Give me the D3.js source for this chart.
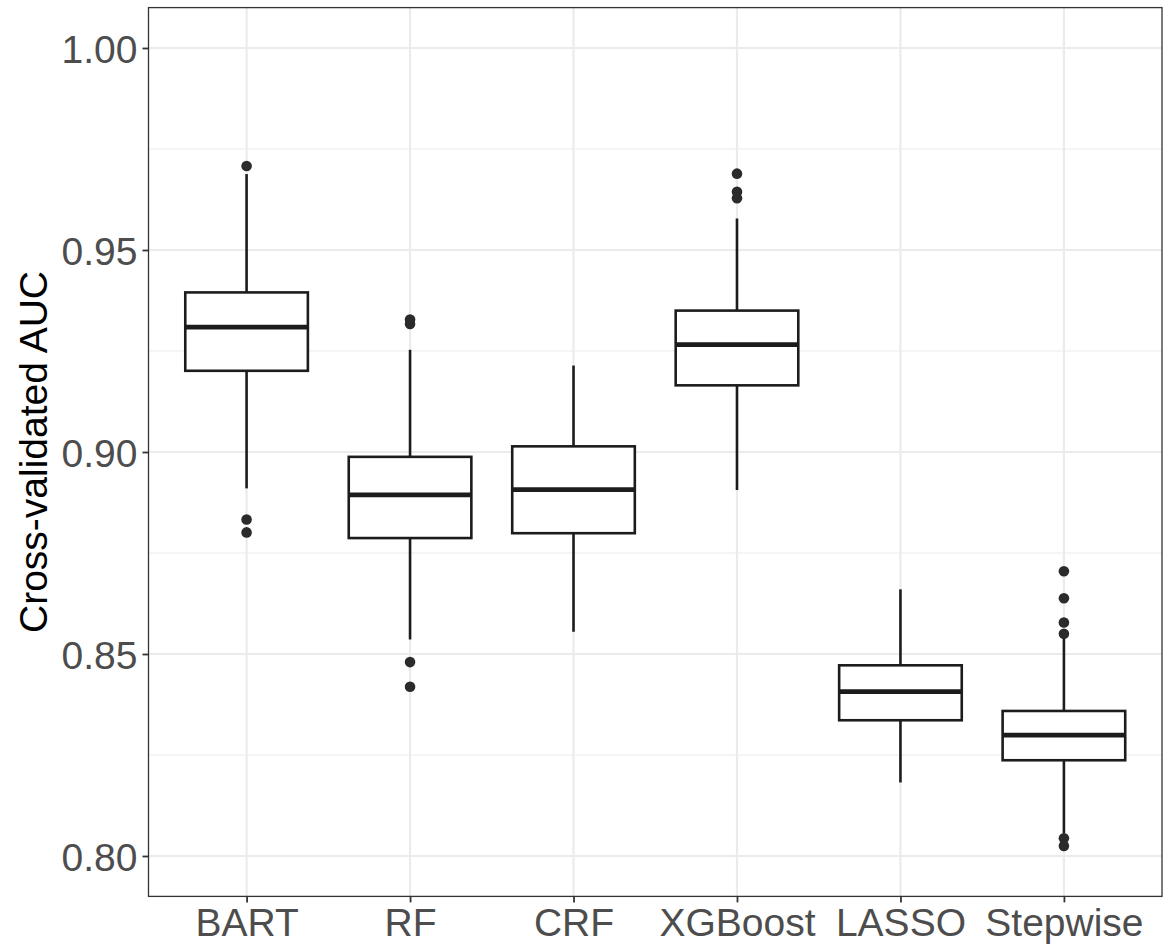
<!DOCTYPE html>
<html>
<head>
<meta charset="utf-8">
<script src="https://cdn.jsdelivr.net/npm/d3@7"></script>
<style>
  html, body { margin: 0; padding: 0; background: #ffffff; }
  svg { display: block; }
</style>
</head>
<body>
<svg id="chart" width="1165" height="948"></svg>
<script>
// ---- data ----
const categories = ["BART", "RF", "CRF", "XGBoost", "LASSO", "Stepwise"];
const whiskerLow  = [0.8910, 0.8536, 0.8555, 0.8906, 0.8182, 0.8056];
const q1          = [0.9201, 0.8787, 0.8799, 0.9165, 0.8336, 0.8237];
const medians     = [0.9309, 0.8894, 0.8907, 0.9266, 0.8407, 0.8299];
const q3          = [0.9395, 0.8988, 0.9014, 0.9350, 0.8472, 0.8359];
const whiskerHigh = [0.9688, 0.9253, 0.9214, 0.9578, 0.8660, 0.8540];
const outliers    = [
  [0.9708, 0.8833, 0.8801],
  [0.9328, 0.9317, 0.8480, 0.8419],
  [],
  [0.9689, 0.9644, 0.9628],
  [],
  [0.8705, 0.8638, 0.8578, 0.8550, 0.8044, 0.8025]
];
const yTicks = [0.80, 0.85, 0.90, 0.95, 1.00];
const yMinorTicks = [0.825, 0.875, 0.925, 0.975];
const yTitle = "Cross-validated AUC";

// ---- layout ----
const panel = { left: 148.5, right: 1162, top: 7.6, bottom: 896.4 };
const svg = d3.select("#chart");

const x = d3.scalePoint().domain(categories)
  .range([panel.left, panel.right]).padding(0.6);
const step = x.step();
const boxW = step * 0.75;
const y = d3.scaleLinear().domain([0.79, 1.01]).range([panel.bottom, panel.top]);

const grid = svg.append("g");
grid.selectAll("line.minor").data(yMinorTicks).join("line")
  .attr("x1", panel.left).attr("x2", panel.right)
  .attr("y1", d => y(d)).attr("y2", d => y(d))
  .attr("stroke", "#ebebeb").attr("stroke-width", 1.1);
grid.selectAll("line.majy").data(yTicks).join("line")
  .attr("x1", panel.left).attr("x2", panel.right)
  .attr("y1", d => y(d)).attr("y2", d => y(d))
  .attr("stroke", "#ebebeb").attr("stroke-width", 2.2);
grid.selectAll("line.majx").data(categories).join("line")
  .attr("y1", panel.top).attr("y2", panel.bottom)
  .attr("x1", d => x(d)).attr("x2", d => x(d))
  .attr("stroke", "#ebebeb").attr("stroke-width", 2.2);

// ---- boxplots ----
const ink = "#1c1c1c";
const dotInk = "#2b2b2b";
const boxes = svg.append("g");
categories.forEach((c, i) => {
  const cx = x(c);
  const g = boxes.append("g");
  g.append("line").attr("x1", cx).attr("x2", cx)
    .attr("y1", y(q3[i])).attr("y2", y(whiskerHigh[i]))
    .attr("stroke", ink).attr("stroke-width", 2.6);
  g.append("line").attr("x1", cx).attr("x2", cx)
    .attr("y1", y(q1[i])).attr("y2", y(whiskerLow[i]))
    .attr("stroke", ink).attr("stroke-width", 2.6);
  g.append("rect")
    .attr("x", cx - boxW / 2).attr("width", boxW)
    .attr("y", y(q3[i])).attr("height", y(q1[i]) - y(q3[i]))
    .attr("fill", "#ffffff").attr("stroke", ink).attr("stroke-width", 2.6);
  g.append("line")
    .attr("x1", cx - boxW / 2).attr("x2", cx + boxW / 2)
    .attr("y1", y(medians[i])).attr("y2", y(medians[i]))
    .attr("stroke", ink).attr("stroke-width", 4.8);
  g.selectAll("circle").data(outliers[i]).join("circle")
    .attr("cx", cx).attr("cy", d => y(d)).attr("r", 5.3)
    .attr("fill", dotInk);
});

// ---- panel border ----
svg.append("rect")
  .attr("x", panel.left).attr("y", panel.top)
  .attr("width", panel.right - panel.left).attr("height", panel.bottom - panel.top)
  .attr("fill", "none").attr("stroke", "#333333").attr("stroke-width", 1.3);

// ---- axes ----
const fontFam = "'Liberation Sans', Arial, Helvetica, sans-serif";
const yAxis = svg.append("g")
  .attr("transform", `translate(${panel.left},0)`)
  .call(d3.axisLeft(y).tickValues(yTicks).tickFormat(d3.format(".2f"))
        .tickSize(6).tickPadding(5));
yAxis.select(".domain").remove();
yAxis.selectAll(".tick line").attr("stroke", "#333333").attr("stroke-width", 1.8);
yAxis.selectAll(".tick text")
  .attr("fill", "#4d4d4d").style("font-family", fontFam).style("font-size", "39px")
  .attr("dy", "0.36em");

const xAxis = svg.append("g")
  .attr("transform", `translate(0,${panel.bottom})`)
  .call(d3.axisBottom(x).tickSize(6).tickPadding(6));
xAxis.select(".domain").remove();
xAxis.selectAll(".tick line").attr("stroke", "#333333").attr("stroke-width", 1.8);
xAxis.selectAll(".tick text")
  .attr("fill", "#4d4d4d").style("font-family", fontFam).style("font-size", "39px");

svg.append("text")
  .attr("transform", `translate(47,${(panel.top + panel.bottom) / 2}) rotate(-90)`)
  .attr("text-anchor", "middle")
  .style("font-family", fontFam).style("font-size", "39px")
  .attr("fill", "#000000")
  .text(yTitle);
</script>
</body>
</html>
